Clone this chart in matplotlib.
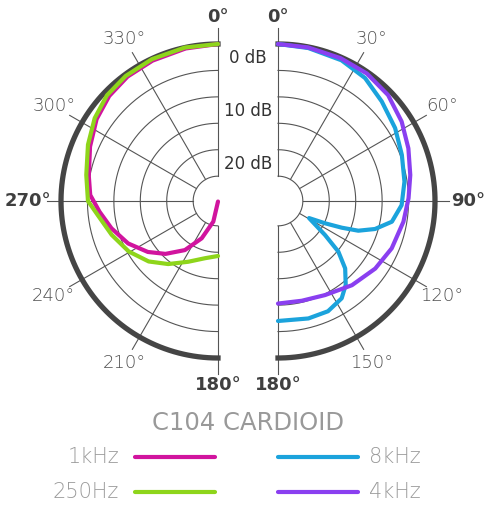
import numpy as np
import matplotlib.pyplot as plt
from matplotlib.lines import Line2D

plt.rcParams['font.family'] = ['DejaVu Sans']

# polar response, angle in degrees / level in dB
deg_1k = [360, 348, 335, 324, 314, 304, 293, 281, 272.7, 264.8, 255.6, 244.7, 234, 224.8,
          214, 203.6, 192.8, 180]
db_1k = [0, -0.2, -0.4, -0.6, -1.1, -2.0, -3.4, -4.8, -5.5, -7.2, -8.9, -10.9, -13.3, -15.6,
         -18.5, -22.0, -25.7, -29.6]

deg_250 = [360, 347.8, 335.1, 323.6, 313.6, 303.9, 293.4, 281.2, 270, 263.3, 252.3, 240.5,
           228.9, 218.3, 206.1, 192.8, 180]
db_250 = [0, 0, -0.1, -0.3, -0.7, -1.6, -2.9, -4.3, -5.1, -6.8, -8.6, -10.3, -12.3, -14.5,
          -16.9, -18.6, -19.3]

deg_8k = [0, 11.2, 24.3, 35.3, 46.2, 58.1, 69.6, 81.3, 91.9, 100.3, 106.1, 110.3, 112.7,
          115.4, 118.8, 125.9, 130, 135.1, 141.1, 146.8, 155.6, 165.5, 180]
db_8k = [0, -0.2, -0.5, -1.2, -2.5, -3.6, -4.7, -5.5, -6.3, -7.8, -10.6, -13.5, -16.6,
         -19.9, -23.0, -18.7, -14.8, -11.7, -9.3, -7.7, -6.8, -6.75, -7.0]

deg_4k = [0, 11.1, 23.7, 34.9, 46.1, 57.3, 68, 78.9, 88.8, 99.4, 112.6, 124.8, 138.7,
          153.4, 166.6, 180]
db_4k = [0, -0.1, -0.2, -0.3, -0.8, -1.9, -3.1, -4.2, -5.0, -5.65, -6.4, -7.3, -8.5, -9.8,
         -10.3, -10.3]

ring_levels = [-25, -20, -15, -10, -5]
db_ticks = [0, 10, 20]
right_angles = [0, 30, 60, 90, 120, 150, 180]
left_angles = [180, 210, 240, 270, 300, 330, 360]

title = "C104 CARDIOID"
legend_left = [("1kHz", '#d1149e'), ("250Hz", '#8ed51b')]
legend_right = [("8kHz", '#1ba3dc'), ("4kHz", '#8a3ff0')]

W, H, DPI = 490, 508, 100
R_PX = 157
R_ORIGIN = -29.7
GRID = '#555555'
TXT = '#505050'

fig = plt.figure(figsize=(W / DPI, H / DPI), dpi=DPI)


def make_half(cx, cy, tmin, tmax):
    side = 2 * R_PX
    frac = 0.25 if tmin == 0 else 0.75
    left = cx - frac * side
    bottom = (H - cy) - R_PX
    ax = fig.add_axes([left / W, bottom / H, side / W, side / H], projection='polar')
    ax.set_theta_zero_location('N')
    ax.set_theta_direction(-1)
    ax.set_thetamin(tmin)
    ax.set_thetamax(tmax)
    ax.set_ylim(-25, 0)
    ax.set_rorigin(R_ORIGIN)
    ax.axis('off')

    th = np.deg2rad(np.linspace(tmin, tmax, 200))
    for lvl in ring_levels:
        ax.plot(th, np.full_like(th, lvl), color=GRID, lw=0.8, clip_on=False, zorder=1)
    ax.plot(th, np.zeros_like(th), color='#454545', lw=3.8, clip_on=False, zorder=2)
    return ax


def spokes_and_labels(ax, angles):
    for a in angles:
        t = np.deg2rad(a)
        edge = a % 180 == 0
        ax.plot([t, t], [-25, 3.1 if edge else 2.7], color=GRID, lw=0.8,
                clip_on=False, zorder=1)
        lab = a % 360
        bold = lab % 90 == 0
        s = abs(np.sin(t))
        r = 5.2 + 1.1 * s
        ax.text(t, r, f"{lab}°", ha='center', va='center', fontsize=13,
                color='#3f3f3f' if bold else TXT,
                fontweight='bold' if bold else 'light', clip_on=False)


ax_l = make_half(218, 201, 180, 360)
ax_r = make_half(278, 201, 0, 180)
spokes_and_labels(ax_l, left_angles)
spokes_and_labels(ax_r, right_angles)

# drawing order as in the original: green over magenta, purple over cyan
for d, v, c, ax in [(deg_1k, db_1k, legend_left[0][1], ax_l),
                    (deg_250, db_250, legend_left[1][1], ax_l),
                    (deg_8k, db_8k, legend_right[0][1], ax_r),
                    (deg_4k, db_4k, legend_right[1][1], ax_r)]:
    ax.plot(np.deg2rad(d), v, color=c, lw=3.0, solid_capstyle='round',
            solid_joinstyle='round', clip_on=False, zorder=3)

for t in db_ticks:
    ax_r.annotate(f"{t} dB", xy=(0, -t - 2.7), xytext=(-30 * 72 / DPI, 0),
                  textcoords='offset points', ha='center', va='center',
                  fontsize=12, color='#333333', annotation_clip=False)

fig.text(248 / W, 1 - 423 / H, title, ha='center', va='center', fontsize=17.5,
         color='#999999', fontweight='normal')

for i, (lab, c) in enumerate(legend_left):
    y = 1 - (457 + 35 * i) / H
    fig.add_artist(Line2D([135 / W, 215 / W], [y, y], color=c, lw=3.0,
                          solid_capstyle='round', transform=fig.transFigure))
    fig.text(119 / W, y, lab, ha='right', va='center', fontsize=15,
             color='#9b9b9b', fontweight='light')
for i, (lab, c) in enumerate(legend_right):
    y = 1 - (457 + 35 * i) / H
    fig.add_artist(Line2D([278 / W, 358 / W], [y, y], color=c, lw=3.0,
                          solid_capstyle='round', transform=fig.transFigure))
    fig.text(369 / W, y, lab, ha='left', va='center', fontsize=15,
             color='#9b9b9b', fontweight='light')

fig.savefig('out.png', dpi=DPI, facecolor='white')
